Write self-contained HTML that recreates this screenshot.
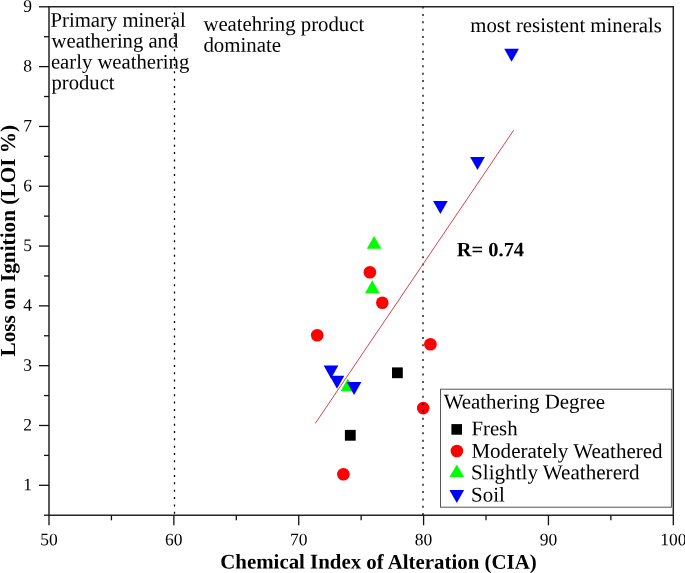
<!DOCTYPE html>
<html><head><meta charset="utf-8"><style>
html,body{margin:0;padding:0;background:#fff;width:685px;height:573px;overflow:hidden;}
svg{display:block;font-family:"Liberation Serif",serif;will-change:transform;text-rendering:geometricPrecision;}
</style></head><body>
<svg width="685" height="573" viewBox="0 0 685 573"><rect x="0" y="0" width="685" height="573" fill="#fff"/>
<polygon points="374.10,235.90 381.40,248.80 366.80,248.80" fill="#00ff00"/>
<polygon points="372.30,280.30 379.60,293.20 365.00,293.20" fill="#00ff00"/>
<polygon points="347.80,378.40 355.10,391.30 340.50,391.30" fill="#00ff00"/>
<circle cx="369.9" cy="272.3" r="6.3" fill="#ff0000"/>
<circle cx="382.3" cy="302.8" r="6.3" fill="#ff0000"/>
<circle cx="317.2" cy="335.3" r="6.3" fill="#ff0000"/>
<circle cx="430.4" cy="344.2" r="6.3" fill="#ff0000"/>
<circle cx="423.2" cy="408.1" r="6.3" fill="#ff0000"/>
<circle cx="343.4" cy="474.3" r="6.3" fill="#ff0000"/>
<rect x="392.00" y="367.40" width="10.8" height="10.8" fill="#000"/>
<rect x="344.90" y="429.90" width="10.8" height="10.8" fill="#000"/>
<polygon points="504.25,48.80 518.95,48.80 511.60,61.80" fill="#0000ff"/>
<polygon points="470.15,157.00 484.85,157.00 477.50,170.00" fill="#0000ff"/>
<polygon points="433.05,200.90 447.75,200.90 440.40,213.90" fill="#0000ff"/>
<polygon points="323.65,365.50 338.35,365.50 331.00,378.50" fill="#0000ff"/>
<polygon points="329.65,375.80 344.35,375.80 337.00,388.80" fill="#0000ff"/>
<polygon points="346.75,382.00 361.45,382.00 354.10,395.00" fill="#0000ff"/>
<line x1="174.5" y1="6.8" x2="174.5" y2="515.20625" stroke="#000" stroke-width="1.3" stroke-dasharray="2 5.34" stroke-dashoffset="-5.80"/>
<line x1="423.0" y1="6.8" x2="423.0" y2="515.20625" stroke="#000" stroke-width="1.3" stroke-dasharray="2 5.34" stroke-dashoffset="-7.15"/>
<line x1="315.3" y1="423.4" x2="513.6" y2="130.3" stroke="#d04550" stroke-width="1"/>
<path d="M49.0 6.8 H673.3 V515.20625 H49.0 Z" fill="none" stroke="#252525" stroke-width="1.5"/>
<line x1="39" y1="485.30" x2="49.0" y2="485.30" stroke="#111" stroke-width="1.3"/>
<line x1="39" y1="425.49" x2="49.0" y2="425.49" stroke="#111" stroke-width="1.3"/>
<line x1="39" y1="365.68" x2="49.0" y2="365.68" stroke="#111" stroke-width="1.3"/>
<line x1="39" y1="305.86" x2="49.0" y2="305.86" stroke="#111" stroke-width="1.3"/>
<line x1="39" y1="246.05" x2="49.0" y2="246.05" stroke="#111" stroke-width="1.3"/>
<line x1="39" y1="186.24" x2="49.0" y2="186.24" stroke="#111" stroke-width="1.3"/>
<line x1="39" y1="126.43" x2="49.0" y2="126.43" stroke="#111" stroke-width="1.3"/>
<line x1="39" y1="66.61" x2="49.0" y2="66.61" stroke="#111" stroke-width="1.3"/>
<line x1="39" y1="6.80" x2="49.0" y2="6.80" stroke="#111" stroke-width="1.3"/>
<line x1="44" y1="515.21" x2="49.0" y2="515.21" stroke="#111" stroke-width="1.3"/>
<line x1="44" y1="455.39" x2="49.0" y2="455.39" stroke="#111" stroke-width="1.3"/>
<line x1="44" y1="395.58" x2="49.0" y2="395.58" stroke="#111" stroke-width="1.3"/>
<line x1="44" y1="335.77" x2="49.0" y2="335.77" stroke="#111" stroke-width="1.3"/>
<line x1="44" y1="275.96" x2="49.0" y2="275.96" stroke="#111" stroke-width="1.3"/>
<line x1="44" y1="216.14" x2="49.0" y2="216.14" stroke="#111" stroke-width="1.3"/>
<line x1="44" y1="156.33" x2="49.0" y2="156.33" stroke="#111" stroke-width="1.3"/>
<line x1="44" y1="96.52" x2="49.0" y2="96.52" stroke="#111" stroke-width="1.3"/>
<line x1="44" y1="36.71" x2="49.0" y2="36.71" stroke="#111" stroke-width="1.3"/>
<line x1="49.00" y1="515.21" x2="49.00" y2="525.3" stroke="#111" stroke-width="1.3"/>
<line x1="173.86" y1="515.21" x2="173.86" y2="525.3" stroke="#111" stroke-width="1.3"/>
<line x1="298.72" y1="515.21" x2="298.72" y2="525.3" stroke="#111" stroke-width="1.3"/>
<line x1="423.58" y1="515.21" x2="423.58" y2="525.3" stroke="#111" stroke-width="1.3"/>
<line x1="548.44" y1="515.21" x2="548.44" y2="525.3" stroke="#111" stroke-width="1.3"/>
<line x1="673.30" y1="515.21" x2="673.30" y2="525.3" stroke="#111" stroke-width="1.3"/>
<line x1="111.43" y1="515.21" x2="111.43" y2="520.3" stroke="#111" stroke-width="1.3"/>
<line x1="236.29" y1="515.21" x2="236.29" y2="520.3" stroke="#111" stroke-width="1.3"/>
<line x1="361.15" y1="515.21" x2="361.15" y2="520.3" stroke="#111" stroke-width="1.3"/>
<line x1="486.01" y1="515.21" x2="486.01" y2="520.3" stroke="#111" stroke-width="1.3"/>
<line x1="610.87" y1="515.21" x2="610.87" y2="520.3" stroke="#111" stroke-width="1.3"/>
<text transform="translate(32.1 490.30) skewY(0.05) scale(1 1)" font-size="17.5" text-anchor="end">1</text>
<text transform="translate(32.1 430.49) skewY(0.05) scale(1 1)" font-size="17.5" text-anchor="end">2</text>
<text transform="translate(32.1 370.68) skewY(0.05) scale(1 1)" font-size="17.5" text-anchor="end">3</text>
<text transform="translate(32.1 310.86) skewY(0.05) scale(1 1)" font-size="17.5" text-anchor="end">4</text>
<text transform="translate(32.1 251.05) skewY(0.05) scale(1 1)" font-size="17.5" text-anchor="end">5</text>
<text transform="translate(32.1 191.24) skewY(0.05) scale(1 1)" font-size="17.5" text-anchor="end">6</text>
<text transform="translate(32.1 131.43) skewY(0.05) scale(1 1)" font-size="17.5" text-anchor="end">7</text>
<text transform="translate(32.1 71.61) skewY(0.05) scale(1 1)" font-size="17.5" text-anchor="end">8</text>
<text transform="translate(32.1 11.80) skewY(0.05) scale(1 1)" font-size="17.5" text-anchor="end">9</text>
<text transform="translate(49.00 545.2) skewY(0.05) scale(1 1)" font-size="17.5" text-anchor="middle">50</text>
<text transform="translate(173.86 545.2) skewY(0.05) scale(1 1)" font-size="17.5" text-anchor="middle">60</text>
<text transform="translate(298.72 545.2) skewY(0.05) scale(1 1)" font-size="17.5" text-anchor="middle">70</text>
<text transform="translate(423.58 545.2) skewY(0.05) scale(1 1)" font-size="17.5" text-anchor="middle">80</text>
<text transform="translate(548.44 545.2) skewY(0.05) scale(1 1)" font-size="17.5" text-anchor="middle">90</text>
<text transform="translate(673.30 545.2) skewY(0.05) scale(1 1)" font-size="17.5" text-anchor="middle">100</text>
<text transform="translate(50.47 26.7) skewY(0.05) scale(1 1.0)" font-size="20.733">Primary mineral</text>
<text transform="translate(51.56 47.5) skewY(0.05) scale(1 1.0)" font-size="20.653">weathering and</text>
<text transform="translate(50.88 68.4) skewY(0.05) scale(1 1.0)" font-size="20.691">early weathering</text>
<text transform="translate(51.51 89.3) skewY(0.05) scale(1 1.0)" font-size="20.644">product</text>
<text transform="translate(203.4 30.8) skewY(0.05) scale(1 1.0)" font-size="20.763">weatehring product</text>
<text transform="translate(203.4 51.7) skewY(0.05) scale(1 1.0)" font-size="20.892">dominate</text>
<text transform="translate(470.31 32.0) skewY(0.05) scale(1 1.0)" font-size="20.795">most resistent minerals</text>
<text transform="translate(456.81 256.3) skewY(0.05) scale(1 1.0)" font-size="20.458" font-weight="bold">R= 0.74</text>
<text transform="translate(220.31 568.5) skewY(0.05) scale(1 1.0)" font-size="20.867" font-weight="bold">Chemical Index of Alteration (CIA)</text>
<text transform="translate(14.7 356.5) rotate(-90) scale(1 1.0)" x="0" y="0" font-size="21.289" font-weight="bold">Loss on Ignition (LOI %)</text>
<rect x="440.5" y="389.2" width="230.9" height="118" fill="#fff" stroke="#555" stroke-width="1"/>
<text transform="translate(443.64 408.5) skewY(0.05) scale(1 1.0)" font-size="20.926">Weathering Degree</text>
<rect x="451.40" y="424.10" width="10.6" height="10.6" fill="#000"/>
<circle cx="456.9" cy="451.0" r="6.3" fill="#ff0000"/>
<polygon points="456.80,464.40 464.15,477.00 449.45,477.00" fill="#00ff00"/>
<polygon points="449.45,489.90 464.15,489.90 456.80,503.00" fill="#0000ff"/>
<text transform="translate(471.4 435.3) skewY(0.05) scale(1 1.0)" font-size="20.8">Fresh</text>
<text transform="translate(471.4 457.8) skewY(0.05) scale(1 1.0)" font-size="21.049">Moderately Weathered</text>
<text transform="translate(471.1 479.2) skewY(0.05) scale(1 1.0)" font-size="21.113">Slightly Weathererd</text>
<text transform="translate(471.1 501.6) skewY(0.05) scale(1 1.0)" font-size="20.9">Soil</text></svg>
</body></html>
